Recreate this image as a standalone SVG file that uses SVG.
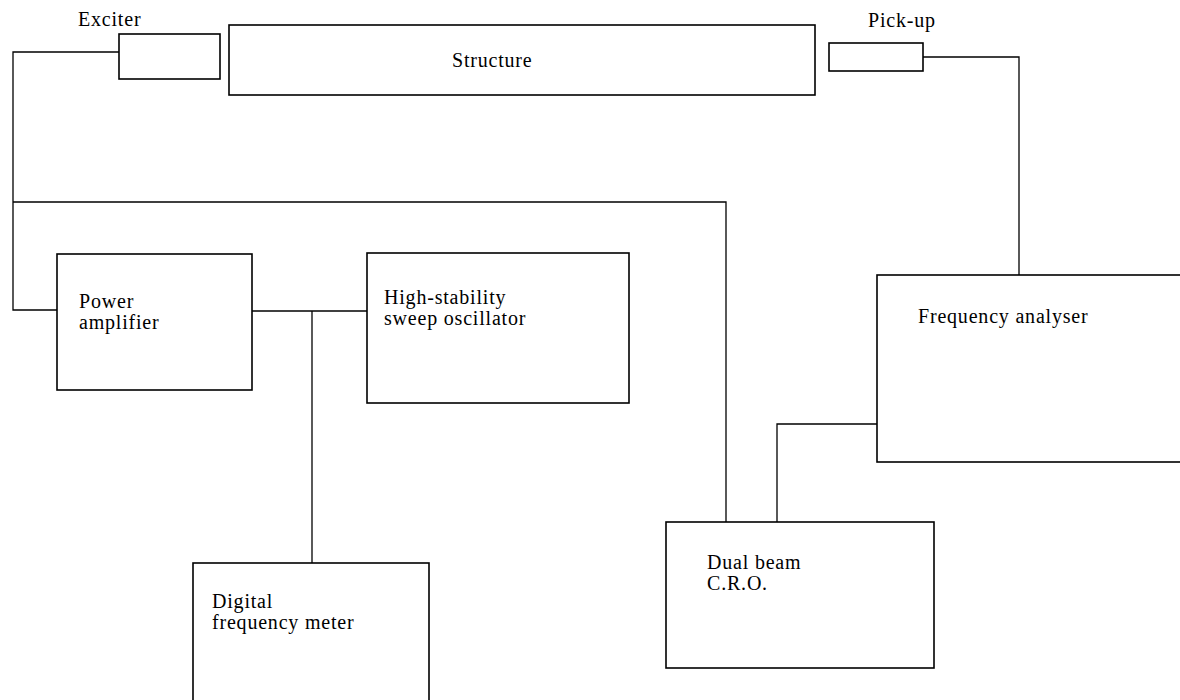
<svg xmlns="http://www.w3.org/2000/svg" width="1180" height="700" viewBox="0 0 1180 700">
<style>
.box{fill:#fff;stroke:#000;stroke-width:1.6}
.wire{fill:none;stroke:#000;stroke-width:1.3}
text{font-family:"Liberation Serif","Times New Roman",serif;font-size:20px;fill:#000;letter-spacing:0.8px}
</style>
<rect width="1180" height="700" fill="#fff"/>
<g id="connectors">
<polyline class="wire" points="119,52 13,52 13,310 57,310"/>
<polyline class="wire" points="13,202 726,202 726,522"/>
<polyline class="wire" points="923,57 1019,57 1019,275"/>
<line class="wire" x1="252" y1="311" x2="367" y2="311"/>
<line class="wire" x1="312" y1="311" x2="312" y2="563"/>
<polyline class="wire" points="777,522 777,424 877,424"/>
</g>
<g id="structure">
<rect class="box" x="229" y="25" width="586" height="70"/>
<text x="452" y="67">Structure</text>
</g>
<g id="exciter">
<rect class="box" x="119" y="34" width="101" height="45"/>
<text x="78" y="26">Exciter</text>
</g>
<g id="pickup">
<rect class="box" x="829" y="43" width="94" height="28"/>
<text x="868" y="27">Pick-up</text>
</g>
<g id="power-amplifier">
<rect class="box" x="57" y="254" width="195" height="136"/>
<text x="79" y="308">Power</text>
<text x="79" y="329">amplifier</text>
</g>
<g id="sweep-oscillator">
<rect class="box" x="367" y="253" width="262" height="150"/>
<text x="384" y="304">High-stability</text>
<text x="384" y="325">sweep oscillator</text>
</g>
<g id="frequency-meter">
<rect class="box" x="193" y="563" width="236" height="150"/>
<text x="212" y="608">Digital</text>
<text x="212" y="629">frequency meter</text>
</g>
<g id="frequency-analyser">
<rect class="box" x="877" y="275" width="320" height="187"/>
<text x="918" y="323">Frequency analyser</text>
</g>
<g id="cro">
<rect class="box" x="666" y="522" width="268" height="146"/>
<text x="707" y="569">Dual beam</text>
<text x="707" y="590">C.R.O.</text>
</g>
</svg>
